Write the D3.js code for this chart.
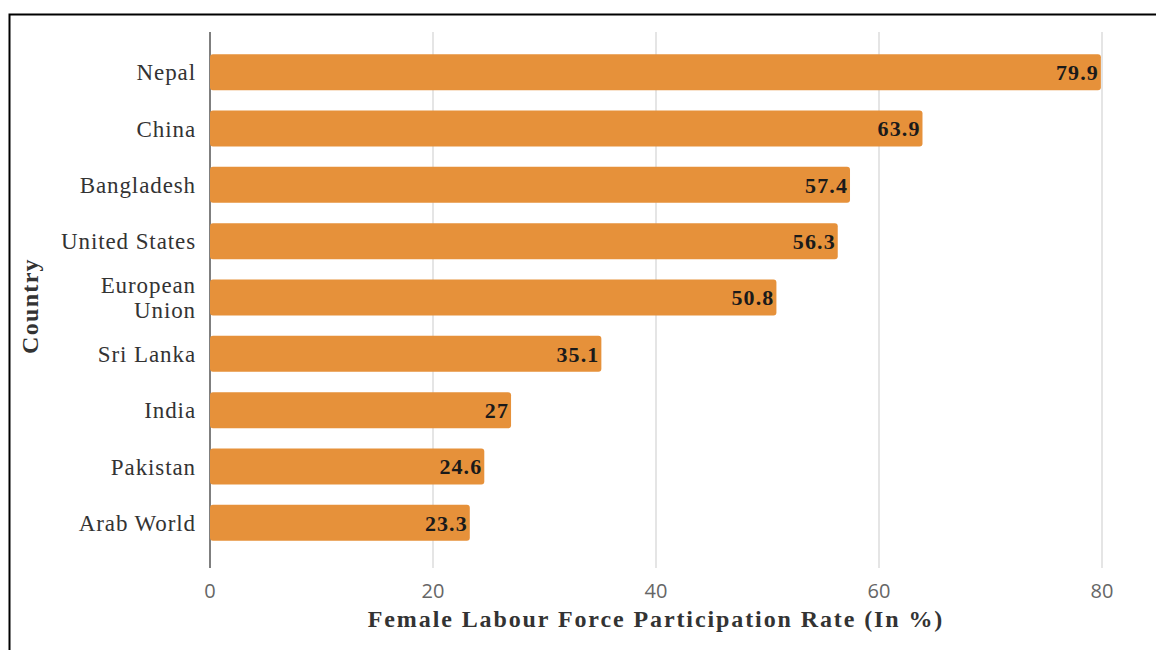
<!DOCTYPE html>
<html>
<head>
<meta charset="utf-8">
<script src="https://cdn.jsdelivr.net/npm/d3@7"></script>
<style>
  body { margin: 0; background: #fff; }
  svg text { font-family: "Liberation Serif", "Times New Roman", serif; }
</style>
</head>
<body>
<div id="chart"></div>
<script>
// data
var countries = ["Nepal", "China", "Bangladesh", "United States", "European Union",
                 "Sri Lanka", "India", "Pakistan", "Arab World"];
var rates = [79.9, 63.9, 57.4, 56.3, 50.8, 35.1, 27, 24.6, 23.3];
var xTicks = [0, 20, 40, 60, 80];

var width = 1156, height = 650;
var margin = {left: 210, right: 54, top: 44, bottom: 99};

var svg = d3.select("#chart").append("svg")
    .attr("width", width)
    .attr("height", height);

// frame
svg.append("rect")
    .attr("x", 9.5).attr("y", 14.5)
    .attr("width", 1200).attr("height", 700)
    .attr("fill", "none")
    .attr("stroke", "#000")
    .attr("stroke-width", 2);

var x = d3.scaleLinear()
    .domain([0, 80])
    .range([margin.left, width - margin.right]);

var y = d3.scaleBand()
    .domain(countries)
    .range([margin.top, height - margin.bottom])
    .paddingInner(0.36)
    .paddingOuter(0.18);

// gridlines
svg.append("g").selectAll("line")
  .data(xTicks.slice(1))
  .join("line")
    .attr("x1", d => x(d)).attr("x2", d => x(d))
    .attr("y1", 32).attr("y2", 568)
    .attr("stroke", "#d4d4d4")
    .attr("stroke-width", 1.2);

// y axis line
svg.append("line")
    .attr("x1", x(0)).attr("x2", x(0))
    .attr("y1", 32).attr("y2", 568)
    .attr("stroke", "#555")
    .attr("stroke-width", 1.5);

// bars
var rows = countries.map((c, i) => ({c: c, v: rates[i]}));

svg.append("g").selectAll("rect")
  .data(rows)
  .join("rect")
    .attr("x", x(0))
    .attr("y", d => y(d.c))
    .attr("width", d => x(d.v) - x(0))
    .attr("height", y.bandwidth())
    .attr("rx", 3)
    .attr("fill", "#E6913A");

// value labels
svg.append("g").selectAll("text")
  .data(rows)
  .join("text")
    .attr("x", d => x(d.v) - 2)
    .attr("y", d => y(d.c) + y.bandwidth() / 2)
    .attr("dy", "0.36em")
    .attr("text-anchor", "end")
    .attr("font-size", 22)
    .attr("font-weight", "bold")
    .attr("letter-spacing", 1.1)
    .attr("fill", "#1a1a1a")
    .text(d => d.v);

// category labels
var cat = svg.append("g").selectAll("text")
  .data(rows)
  .join("text")
    .attr("y", d => y(d.c) + y.bandwidth() / 2)
    .attr("text-anchor", "end")
    .attr("font-size", 23)
    .attr("letter-spacing", 0.9)
    .attr("fill", "#333");

cat.each(function(d) {
  var t = d3.select(this);
  var parts = d.c === "European Union" ? ["European", "Union"] : [d.c];
  parts.forEach((p, i) => {
    t.append("tspan")
      .attr("x", x(0) - 14)
      .attr("dy", i === 0 ? (parts.length === 1 ? "0.35em" : "-0.2em") : "1.1em")
      .text(p);
  });
});

// x axis tick labels
svg.append("g").selectAll("text")
  .data(xTicks)
  .join("text")
    .attr("x", d => x(d))
    .attr("y", 598)
    .attr("text-anchor", "middle")
    .attr("font-size", 20)
    .attr("fill", "#666")
    .style("font-family", "'Open Sans', 'Liberation Sans', sans-serif")
    .text(d => d);

// axis titles
svg.append("text")
    .attr("x", (x(0) + x(80)) / 2)
    .attr("y", 627)
    .attr("text-anchor", "middle")
    .attr("font-size", 24)
    .attr("font-weight", "bold")
    .attr("fill", "#333")
    .attr("letter-spacing", 1.9)
    .text("Female Labour Force Participation Rate (In %)");

svg.append("text")
    .attr("transform", "translate(38,306) rotate(-90)")
    .attr("text-anchor", "middle")
    .attr("font-size", 24)
    .attr("font-weight", "bold")
    .attr("fill", "#333")
    .attr("letter-spacing", 1.3)
    .text("Country");
</script>
</body>
</html>
